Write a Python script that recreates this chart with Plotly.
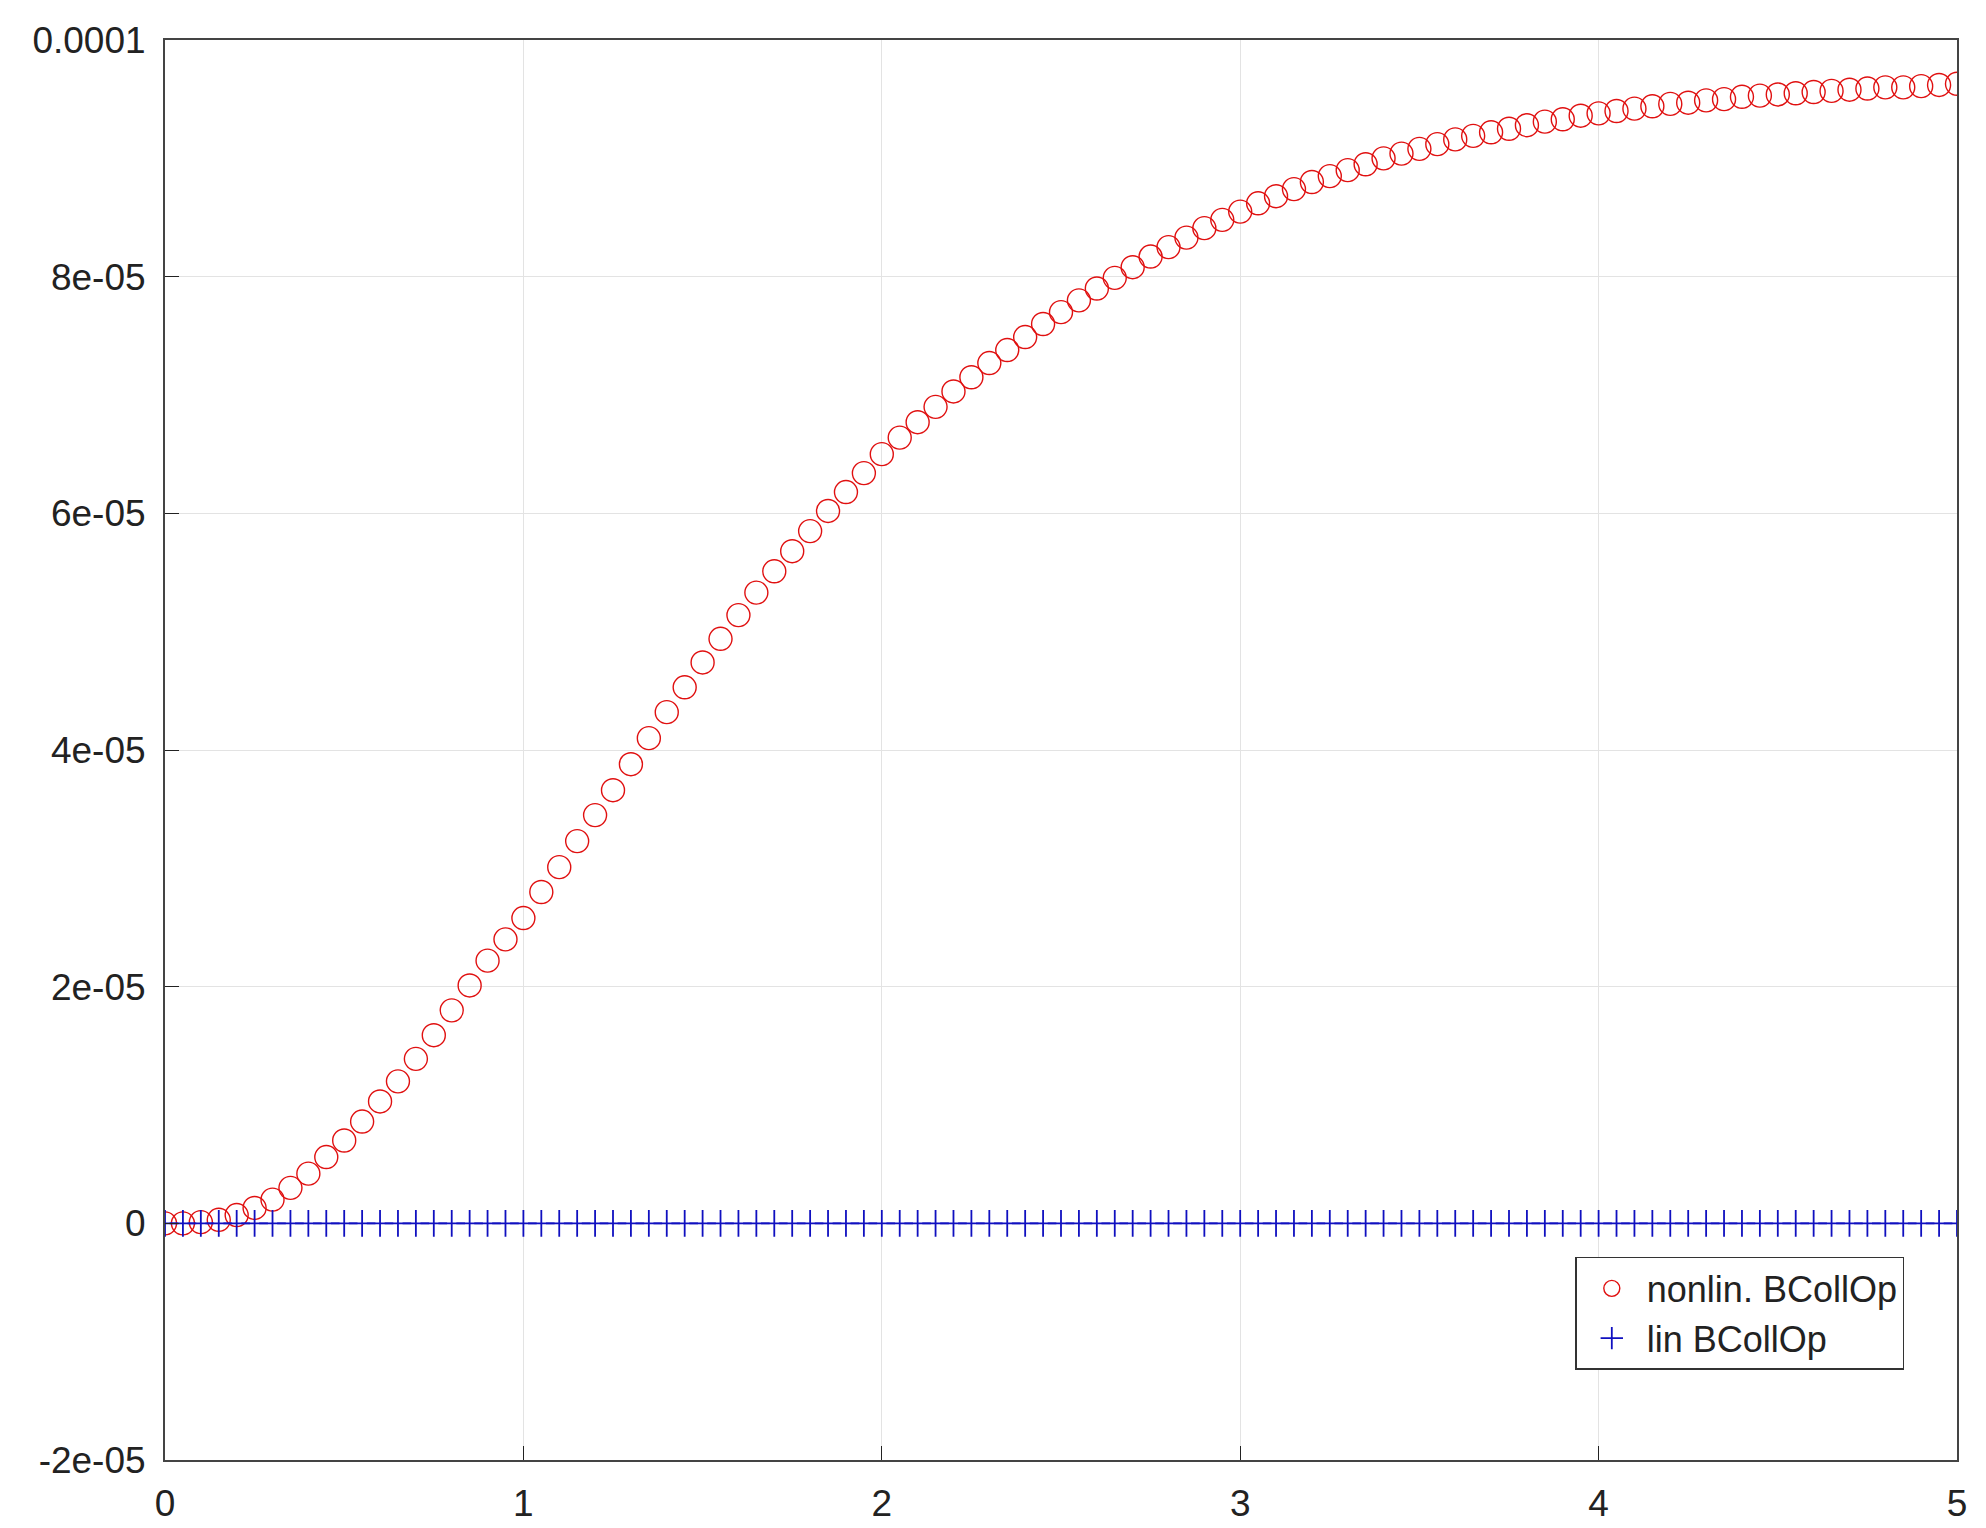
import numpy as np
import plotly.graph_objects as go

# time grid, 0 .. 5 step 0.05
t = np.round(np.arange(101) * 0.05, 2)

# nonlinear collision operator, units of 1e-5
nonlin_e5 = [
    0, 0, 0.01, 0.03, 0.07, 0.13, 0.2, 0.3, 0.42, 0.56, 0.7,
    0.86, 1.03, 1.2, 1.39, 1.59, 1.8, 2.01, 2.22, 2.4, 2.58,
    2.8, 3.01, 3.23, 3.45, 3.66, 3.88, 4.1, 4.32, 4.53, 4.74,
    4.94, 5.14, 5.33, 5.51, 5.68, 5.85, 6.02, 6.18, 6.34, 6.5,
    6.64, 6.77, 6.9, 7.03, 7.15, 7.27, 7.38, 7.49, 7.6, 7.7,
    7.8, 7.9, 7.99, 8.08, 8.17, 8.25, 8.33, 8.41, 8.48, 8.55,
    8.62, 8.68, 8.74, 8.8, 8.85, 8.9, 8.95, 9.0, 9.04, 9.08,
    9.12, 9.16, 9.19, 9.22, 9.25, 9.28, 9.31, 9.33, 9.36, 9.38,
    9.4, 9.42, 9.44, 9.46, 9.47, 9.49, 9.5, 9.52, 9.53, 9.54,
    9.55, 9.56, 9.57, 9.58, 9.59, 9.6, 9.6, 9.61, 9.62, 9.63,
]
nonlin = [v * 1e-5 for v in nonlin_e5]
lin = [0.0] * 101

ytick_vals = [-2e-5, 0, 2e-5, 4e-5, 6e-5, 8e-5, 1e-4]
ytick_text = ["-2e-05", "0", "2e-05", "4e-05", "6e-05", "8e-05", "0.0001"]

fig = go.Figure()
fig.add_trace(go.Scatter(
    x=t, y=nonlin, mode="markers", name="nonlin. BCollOp",
    marker=dict(symbol="circle-open", size=23, color="#e01010", line=dict(width=1.4)),
))
fig.add_trace(go.Scatter(
    x=t, y=lin, mode="markers", name="lin BCollOp",
    marker=dict(symbol="cross-thin", size=19, color="#1010c0", line=dict(width=1.8, color="#1010c0")),
))

axis_common = dict(
    showgrid=True, gridcolor="#e3e3e3", gridwidth=1,
    showline=True, linecolor="#444", linewidth=2, mirror=True,
    ticks="inside", ticklen=14, tickcolor="#222", zeroline=False,
    tickfont=dict(size=37, color="#222"), ticklabelstandoff=10,
)
fig.update_xaxes(range=[0, 5], tickvals=[0, 1, 2, 3, 4, 5], **axis_common)
fig.update_yaxes(range=[-2e-5, 1e-4], tickvals=ytick_vals, ticktext=ytick_text, **axis_common)

fig.update_layout(
    width=1986, height=1528,
    margin=dict(l=157, r=37, t=28, b=76),
    plot_bgcolor="white", paper_bgcolor="white",
    font=dict(family="Liberation Sans, Arial, sans-serif", size=37, color="#222"),
    legend=dict(
        x=0.787, y=0.143, xanchor="left", yanchor="top",
        bgcolor="white", bordercolor="#333", borderwidth=1.5,
        font=dict(size=36), itemwidth=60, tracegroupgap=10,
    ),
    showlegend=True,
)

fig.write_html("out.html")
